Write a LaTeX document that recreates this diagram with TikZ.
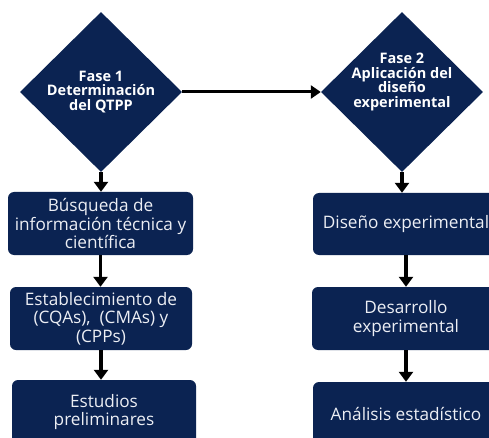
\documentclass[tikz,border=0pt]{standalone}
\usepackage{fontspec}
\setmainfont{Open Sans}
\usetikzlibrary{shapes.geometric,arrows.meta}
\definecolor{navy}{RGB}{11,35,82}
\definecolor{boxtext}{RGB}{236,238,244}
\tikzset{
  phase/.style={diamond, fill=navy, inner sep=0pt, minimum width=162pt, minimum height=160pt},
  phasetext/.style={text=white, align=center, font=\bfseries\fontsize{14.5}{14.5}\selectfont, inner sep=0pt},
  stepbox/.style={rectangle, rounded corners=6pt, fill=navy, text=boxtext, align=center,
    font=\fontsize{17.2}{18.5}\selectfont, inner sep=0pt},
  flow/.style={line width=3.5pt, -{Triangle[width=14pt,length=10pt]}},
  link/.style={line width=3pt, -{Triangle[width=13pt,length=10pt]}}
}
\begin{document}
\begin{tikzpicture}[x=1pt,y=-1pt]
\useasboundingbox (0,0) rectangle (489,438);
\clip (0,0) rectangle (489,438);
% diamonds
\node[phase] (d1) at (101,92) {};
\node[phase] (d2) at (402,92) {};
\node[phasetext] (t1) at (101,92) {Fase 1\\Determinación\\del QTPP};
\node[phasetext] (t2) at (402,82) {Fase 2\\Aplicación del\\diseño\\experimental};
% left boxes
\node[stepbox, minimum width=185pt, minimum height=63pt] (l1) at (100.5,223.5) {Búsqueda de\\información técnica y\\científica};
\node[stepbox, minimum width=182pt, minimum height=63pt] (l2) at (101,318.5) {Establecimiento de\\(CQAs),\ \ (CMAs) y\\(CPPs)};
\node[stepbox, minimum width=184pt, minimum height=64pt] (l3) at (104,412) {Estudios\\preliminares};
% right boxes
\node[stepbox, minimum width=186pt, minimum height=62pt] (r1) at (406,224) {Diseño experimental};
\node[stepbox, minimum width=188pt, minimum height=63pt] (r2) at (406,318.5) {Desarrollo\\experimental};
\node[stepbox, minimum width=186pt, minimum height=64pt] (r3) at (406,414) {Análisis estadístico};
% connectors
\draw[link] (d1.east) -- (d2.west);
\draw[flow] (d1.south) -- (d1.south |- l1.north);
\draw[flow] (l1.south) -- (l1.south |- l2.north);
\draw[flow] (l2.south) -- (l2.south |- l3.north);
\draw[flow] (d2.south) -- (d2.south |- r1.north);
\draw[flow] (r1.south) -- (r1.south |- r2.north);
\draw[flow] (r2.south) -- (r2.south |- r3.north);
\end{tikzpicture}
\end{document}
